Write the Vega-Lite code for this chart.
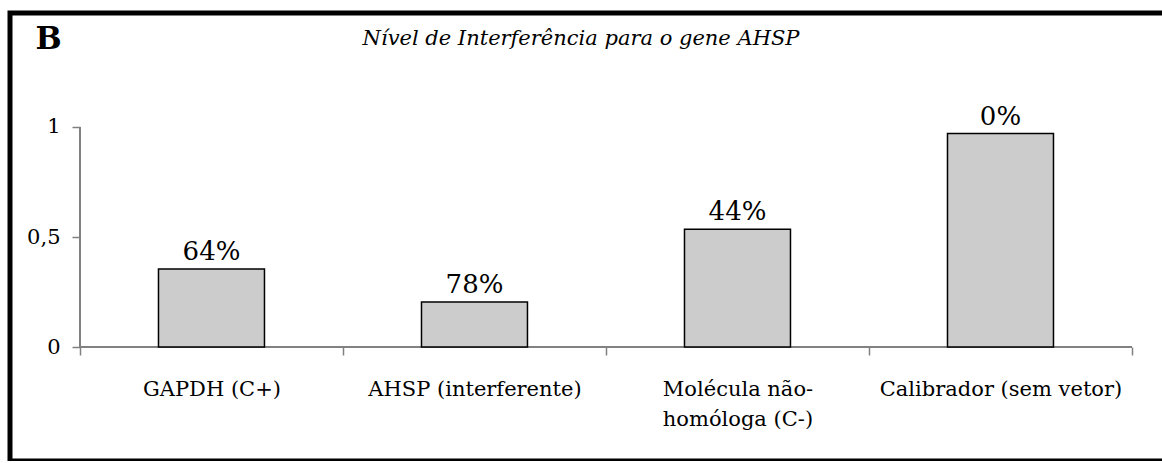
{
  "$schema": "https://vega.github.io/schema/vega-lite/v6.json",
  "width": 1160,
  "height": 448,
  "autosize": {"type": "none"},
  "padding": {"left": 10, "top": 13, "right": 0, "bottom": 0},
  "background": "white",
  "config": {
    "view": {"stroke": "black", "strokeWidth": 5},
    "font": "DejaVu Serif"
  },
  "data": {
    "values": [
      {"categoria": "GAPDH (C+)", "nivel": 0.355, "rotulo": "64%"},
      {"categoria": "AHSP (interferente)", "nivel": 0.205, "rotulo": "78%"},
      {"categoria": "Molécula não-homóloga (C-)", "nivel": 0.535, "rotulo": "44%"},
      {"categoria": "Calibrador (sem vetor)", "nivel": 0.97, "rotulo": "0%"}
    ]
  },
  "title": {
    "text": "Nível de Interferência para o gene AHSP",
    "font": "DejaVu Serif",
    "fontSize": 21,
    "fontStyle": "italic",
    "fontWeight": "normal",
    "color": "black",
    "anchor": "middle",
    "frame": "group",
    "dx": -9,
    "dy": 40
  },
  "layer": [
    {
      "mark": {"type": "rule", "color": "#808080", "strokeWidth": 1.5},
      "encoding": {
        "x": {"datum": "GAPDH (C+)", "type": "nominal", "bandPosition": 0},
        "y": {"datum": 0, "type": "quantitative"},
        "y2": {"datum": 1}
      }
    },
    {
      "mark": {"type": "rule", "color": "#808080", "strokeWidth": 1.5},
      "encoding": {
        "x": {"datum": "GAPDH (C+)", "type": "nominal", "bandPosition": 0},
        "x2": {"datum": "Calibrador (sem vetor)", "bandPosition": 1},
        "y": {"datum": 0, "type": "quantitative"}
      }
    },
    {
      "mark": {"type": "bar", "width": {"band": 0.403}, "fill": "#cccccc", "stroke": "black", "strokeWidth": 1.5},
      "encoding": {
        "x": {
          "field": "categoria",
          "type": "nominal",
          "sort": null,
          "scale": {
            "domain": ["GAPDH (C+)", "AHSP (interferente)", "Molécula não-homóloga (C-)", "Calibrador (sem vetor)"],
            "paddingInner": 0,
            "paddingOuter": 0.2053,
            "align": 0.648
          },
          "axis": {
            "orient": "bottom",
            "offset": -114,
            "domain": false,
            "tickBand": "extent",
            "tickSize": 8,
            "tickColor": "#808080",
            "tickWidth": 1.5,
            "labelFont": "DejaVu Serif",
            "labelFontSize": 21,
            "labelPadding": 34,
            "labelLineHeight": 30,
            "labelAngle": 0,
            "labelAlign": "center",
            "labelColor": "black",
            "labelLimit": 0,
            "labelExpr": "datum.value == 'Molécula não-homóloga (C-)' ? ['Molécula não-', 'homóloga (C-)'] : datum.label",
            "title": null
          }
        },
        "y": {
          "field": "nivel",
          "type": "quantitative",
          "scale": {"domain": [-0.518, 1.518], "nice": false, "zero": false},
          "axis": {
            "values": [0, 0.5, 1],
            "format": ".1~f",
            "labelExpr": "replace(datum.label, '.', ',')",
            "offset": -70,
            "domain": false,
            "grid": false,
            "tickSize": 8,
            "tickColor": "#808080",
            "tickWidth": 1.5,
            "labelFont": "DejaVu Serif",
            "labelFontSize": 21,
            "labelPadding": 12,
            "labelColor": "black",
            "title": "B",
            "titleAngle": 0,
            "titleX": -45,
            "titleY": 35,
            "titleAlign": "left",
            "titleBaseline": "alphabetic",
            "titleFont": "DejaVu Serif",
            "titleFontSize": 31,
            "titleFontWeight": "bold",
            "titleColor": "black"
          }
        },
        "y2": {"datum": 0}
      }
    },
    {
      "mark": {"type": "text", "baseline": "alphabetic", "dy": -9, "fontSize": 26, "font": "DejaVu Serif", "color": "black"},
      "encoding": {
        "x": {"field": "categoria", "type": "nominal", "sort": null},
        "y": {"field": "nivel", "type": "quantitative"},
        "text": {"field": "rotulo"}
      }
    }
  ]
}
